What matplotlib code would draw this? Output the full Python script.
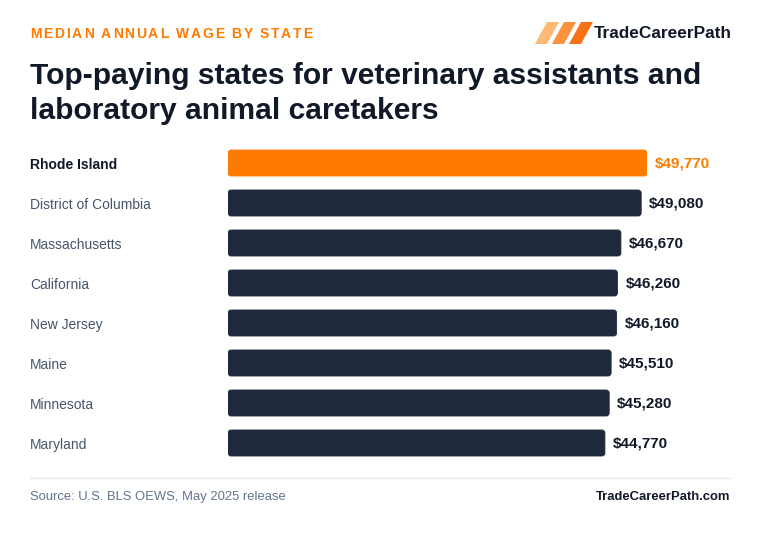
import matplotlib
matplotlib.use("Agg")
import matplotlib.pyplot as plt
from matplotlib.patches import FancyBboxPatch, Polygon
from matplotlib.transforms import blended_transform_factory

plt.rcParams['font.family'] = ['Liberation Sans', 'DejaVu Sans']

states = ["Rhode Island", "District of Columbia", "Massachusetts", "California",
          "New Jersey", "Maine", "Minnesota", "Maryland"]
wages = [49770, 49080, 46670, 46260, 46160, 45510, 45280, 44770]

ORANGE = "#ff7b00"
NAVY = "#1e293b"
DARK = "#111827"
GREY = "#475569"
W, H = 760, 534

def fx(px):
    return px / W

def fy(py):
    return 1 - py / H

fig = plt.figure(figsize=(W / 100, H / 100), dpi=100)
fig.patch.set_facecolor("white")

# ---- chart area
ax = fig.add_axes([fx(228), fy(463), fx(647) - fx(228), (463 - 143) / H])
ax.set_xlim(0, max(wages))
ax.set_ylim(len(states) - 0.5, -0.5)
ax.axis("off")

# pixel -> data sizes for rounded corners
xpp = max(wages) / (647 - 228)
ypp = len(states) / (463 - 143)
bar_h = 0.65
for i, (s, v) in enumerate(zip(states, wages)):
    top = i == 0
    col = ORANGE if top else NAVY
    r = FancyBboxPatch((0, i - bar_h / 2), v, bar_h,
                       boxstyle="round,pad=0,rounding_size=%f" % (3 * xpp),
                       mutation_aspect=ypp / xpp,
                       fc=col, ec=col, lw=0.6)
    ax.add_patch(r)
    ax.text(v + 8 * xpp, i, "${:,}".format(v), va="center", ha="left",
            fontsize=11, fontweight="bold", color=ORANGE if top else DARK,
            clip_on=False)

lab_tr = blended_transform_factory(fig.transFigure, ax.transData)
for i, s in enumerate(states):
    top = i == 0
    ax.text(fx(30), i + 0.04, s, transform=lab_tr, va="center", ha="left",
            fontsize=10, fontweight="bold" if top else "normal",
            color=DARK if top else GREY)

# ---- header with letter spacing
renderer = fig.canvas.get_renderer()
xpos = 30
for ch in "MEDIAN ANNUAL WAGE BY STATE":
    t = fig.text(fx(xpos), fy(34), ch, fontsize=10, fontweight="bold",
                 color=ORANGE, va="center", ha="left")
    w = t.get_window_extent(renderer).width if ch != " " else 3.5
    xpos += w + 1.85

fig.text(fx(30), fy(76), "Top-paying states for veterinary assistants and",
         fontsize=21.6, fontweight="bold", color=DARK, va="center", ha="left")
fig.text(fx(30), fy(111), "laboratory animal caretakers",
         fontsize=21.6, fontweight="bold", color=DARK, va="center", ha="left")

# ---- logo
for k, c in enumerate(["#fdba74", "#fb923c", "#f97316"]):
    x0 = 535 + k * 17
    pts = [(x0, 44), (x0 + 12, 44), (x0 + 24, 22), (x0 + 12, 22)]
    fig.patches.append(Polygon([(fx(a), fy(b)) for a, b in pts], closed=True,
                               transform=fig.transFigure, fc=c, ec="none"))
fig.text(fx(594), fy(33), "TradeCareerPath", fontsize=12.4, fontweight="bold",
         color=DARK, va="center", ha="left")

# ---- footer
fig.add_artist(plt.Line2D([fx(30), fx(730)], [fy(478), fy(478)],
                          color="#e2e8f0", lw=1))
fig.text(fx(30), fy(497), "Source: U.S. BLS OEWS, May 2025 release",
         fontsize=9.4, color="#64748b", va="center", ha="left")
fig.text(fx(730), fy(497), "TradeCareerPath.com", fontsize=9.4,
         fontweight="bold", color=DARK, va="center", ha="right")

fig.savefig("out.png", dpi=100, facecolor="white")
